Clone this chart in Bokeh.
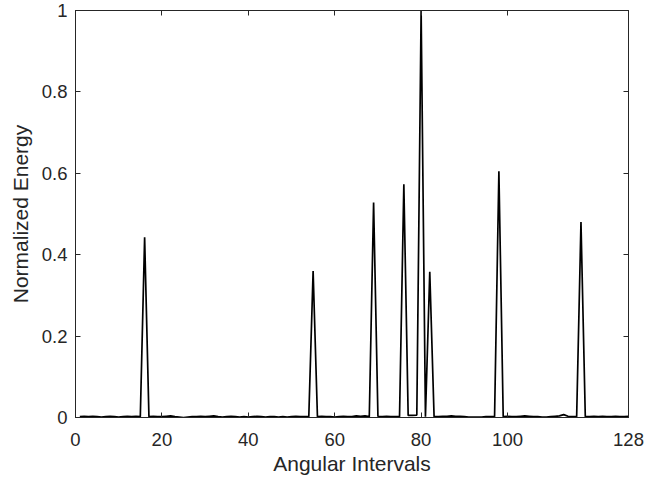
from bokeh.plotting import figure
from bokeh.models import Range1d, FixedTicker, LinearAxis
from bokeh.embed import file_html
from bokeh.resources import INLINE

# Angular interval index (1..128)
intervals = list(range(1, 129))

# Normalized energy per interval
energy = [
    0.002, 0.003, 0.002, 0.003, 0.002, 0.001, 0.002, 0.003, 0.002, 0.001,  # 1-10
    0.002, 0.003, 0.002, 0.003, 0.002, 0.443, 0.002, 0.003, 0.002, 0.002,  # 11-20
    0.003, 0.004, 0.002, 0.001, 0.000, 0.001, 0.002, 0.002, 0.003, 0.002,  # 21-30
    0.003, 0.004, 0.002, 0.001, 0.002, 0.003, 0.002, 0.001, 0.002, 0.001,  # 31-40
    0.002, 0.003, 0.002, 0.001, 0.002, 0.002, 0.001, 0.002, 0.001, 0.002,  # 41-50
    0.003, 0.002, 0.002, 0.002, 0.360, 0.002, 0.003, 0.002, 0.002, 0.001,  # 51-60
    0.002, 0.003, 0.002, 0.002, 0.004, 0.003, 0.004, 0.002, 0.528, 0.003,  # 61-70
    0.002, 0.003, 0.002, 0.002, 0.002, 0.573, 0.005, 0.005, 0.006, 1.000,  # 71-80
    0.002, 0.358, 0.002, 0.002, 0.003, 0.003, 0.004, 0.003, 0.003, 0.002,  # 81-90
    0.001, 0.001, 0.001, 0.001, 0.002, 0.002, 0.002, 0.605, 0.002, 0.003,  # 91-100
    0.002, 0.002, 0.003, 0.004, 0.003, 0.002, 0.002, 0.001, 0.001, 0.002,  # 101-110
    0.003, 0.004, 0.007, 0.003, 0.002, 0.002, 0.480, 0.002, 0.002, 0.003,  # 111-120
    0.002, 0.003, 0.002, 0.002, 0.003, 0.002, 0.002, 0.003,                # 121-128
]

x_ticks = [0, 20, 40, 60, 80, 100, 128]
y_ticks = [0, 0.2, 0.4, 0.6, 0.8, 1]
y_tick_labels = ["0", "0.2", "0.4", "0.6", "0.8", "1"]

x_label = "Angular Intervals"
y_label = "Normalized Energy"

FONT = "Liberation Sans"
TXT = "#262626"

p = figure(width=657, height=479, output_backend="svg", toolbar_location=None,
           x_range=Range1d(0, 128), y_range=Range1d(0, 1),
           min_border_left=75, min_border_right=29, min_border_top=10, min_border_bottom=62)
p.margin = (0, 0, 0, 0)

p.line(intervals, energy, line_color="black", line_width=1.7)

p.xgrid.visible = False
p.ygrid.visible = False
p.outline_line_color = TXT
p.outline_line_width = 1
p.background_fill_color = "white"
p.border_fill_color = "white"

xa = p.xaxis[0]
ya = p.yaxis[0]
xa.ticker = FixedTicker(ticks=x_ticks)
ya.ticker = FixedTicker(ticks=y_ticks)
ya.major_label_overrides = {t: l for t, l in zip(y_ticks, y_tick_labels)}
xa.axis_label = x_label
ya.axis_label = y_label

for ax in (xa, ya):
    ax.axis_line_color = TXT
    ax.major_tick_line_color = TXT
    ax.major_tick_in = 5
    ax.major_tick_out = 0
    ax.minor_tick_line_color = None
    ax.major_label_text_font = FONT
    ax.major_label_text_font_size = "18.5px"
    ax.major_label_text_color = TXT
    ax.axis_label_text_font = FONT
    ax.axis_label_text_font_size = "21px"
    ax.axis_label_text_font_style = "normal"
    ax.axis_label_text_color = TXT

xa.major_label_standoff = 15
ya.major_label_standoff = 8
xa.axis_label_standoff = 3
ya.axis_label_standoff = 7

# mirrored ticks on top and right (box)
top = LinearAxis(ticker=FixedTicker(ticks=x_ticks))
right = LinearAxis(ticker=FixedTicker(ticks=y_ticks))
for ax in (top, right):
    ax.axis_line_color = TXT
    ax.major_tick_line_color = TXT
    ax.major_tick_in = 5
    ax.major_tick_out = 0
    ax.minor_tick_line_color = None
    ax.major_label_text_font_size = "0px"
    ax.major_label_standoff = 0
    ax.major_label_text_alpha = 0
p.add_layout(top, "above")
p.add_layout(right, "right")

open("out.html", "w").write(file_html(p, INLINE))
